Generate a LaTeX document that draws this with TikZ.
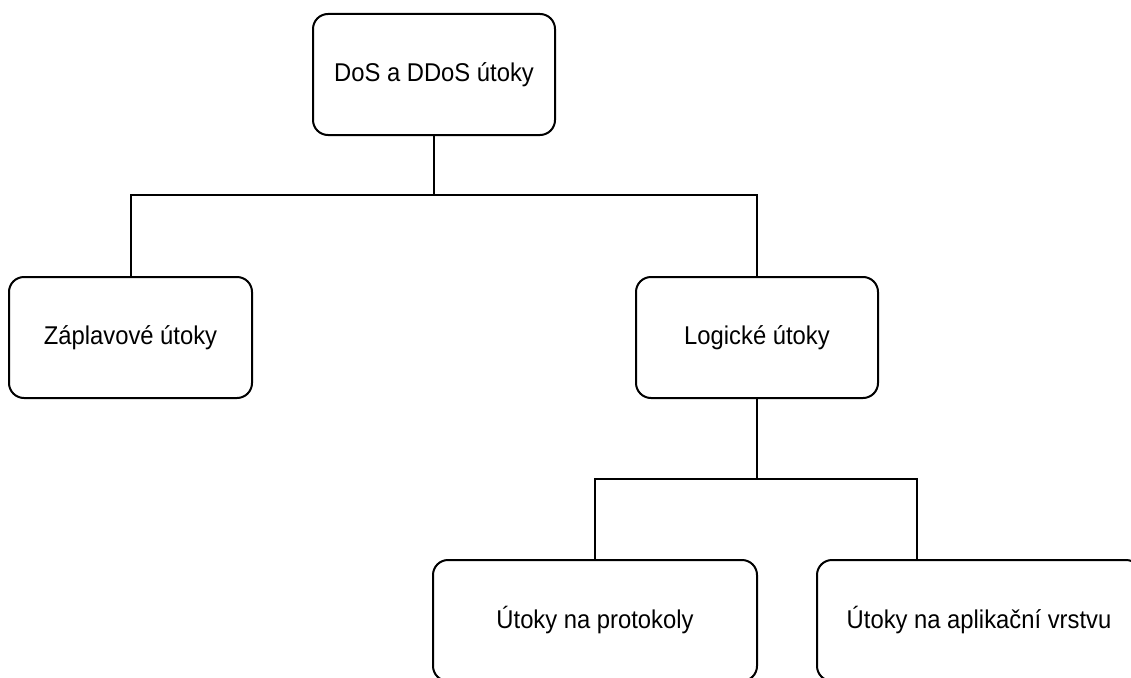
\documentclass[tikz,border=0pt]{standalone}
\usepackage{fontspec}
\setmainfont{Liberation Sans}
\newcommand{\tallt}[1]{\scalebox{1}[1.08]{#1}}
\begin{document}
\begin{tikzpicture}[x=1pt,y=-1pt,
  box/.style={draw=black, line width=2pt, rounded corners=15pt, fill=white,
    minimum height=121pt, inner sep=0pt, font=\fontsize{23.8}{28}\selectfont},
  link/.style={draw=black, line width=2pt}]
\useasboundingbox (0,0) rectangle (1131,677);
\clip (0,0) rectangle (1131,677);
\fill[white] (0,0) rectangle (1131,677);
\node[box, minimum width=242pt] (top) at (434,74.5) {\tallt{DoS a DDoS útoky}};
\node[box, minimum width=243pt] (zap) at (130.5,337.5) {\tallt{Záplavové útoky}};
\node[box, minimum width=242pt] (log) at (757,337.5) {\tallt{Logické útoky}};
\node[box, minimum width=324pt] (prot) at (595,620.5) {\tallt{Útoky na protokoly}};
\node[box, minimum width=324pt] (app) at (979,620.5) {\tallt{Útoky na aplikační vrstvu}};
\coordinate (j1) at (434,195);
\coordinate (j2) at (757,479);
\draw[link] (top.south) -- (j1);
\draw[link] (j1) -| (zap.north);
\draw[link] (j1) -| (log.north);
\draw[link] (log.south) -- (j2);
\draw[link] (j2) -| (prot.north);
\draw[link] (j2) -| ([xshift=101pt]app.north west);
\end{tikzpicture}
\end{document}
